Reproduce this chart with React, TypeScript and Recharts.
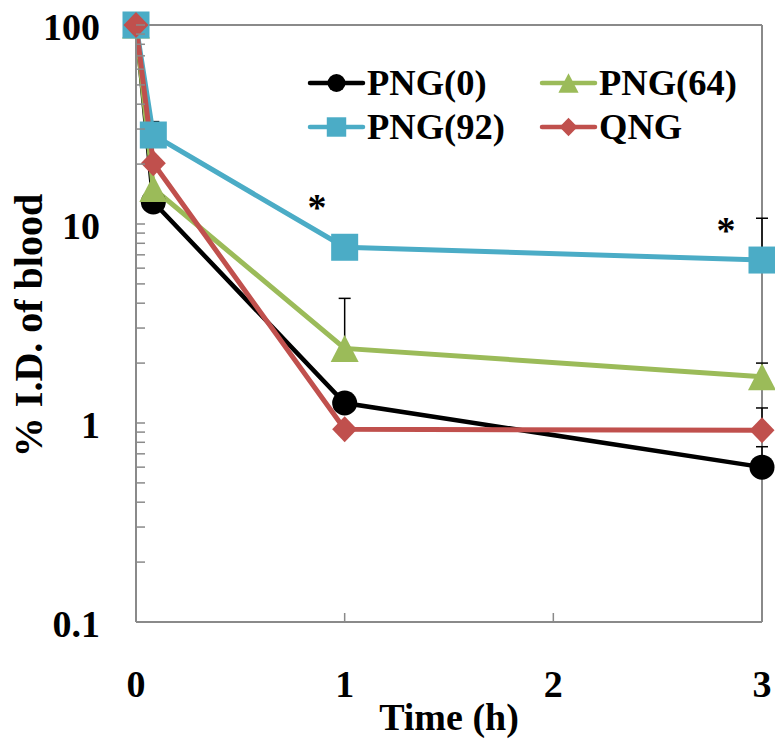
import React from 'react';
import { LineChart, Line, XAxis, YAxis, CartesianGrid, ErrorBar, Legend, ReferenceDot } from 'recharts';

// ---- data ----
const times = [0, 0.083, 1, 3];
const png0 = [100, 12.9, 1.26, 0.6];
const png64 = [100, 15.1, 2.37, 1.71];
const png92 = [100, 28.0, 7.64, 6.59];
const qng = [100, 20.2, 0.93, 0.92];
const png0Err = [0, 0, 0, 0.16];
const png64Err = [0, 0, 1.86, 0.29];
const png92Err = [0, 4.7, 0, 4.1];
const qngErr = [0, 0, 0, 0.27];
const seriesNames = ['PNG(0)', 'PNG(64)', 'PNG(92)', 'QNG'];
const xTicks = [0, 1, 2, 3];
const yMajorTicks = [0.1, 1, 10, 100];
const yAllTicks = [
  0.1, 0.2, 0.3, 0.4, 0.5, 0.6, 0.7, 0.8, 0.9,
  1, 2, 3, 4, 5, 6, 7, 8, 9,
  10, 20, 30, 40, 50, 60, 70, 80, 90, 100,
];
const starX = [0.868, 2.828];
const starY = [12.9, 9.89];
const xTitle = 'Time (h)';
const yTitle = '% I.D. of blood';

const errOf = (e: number) => (e > 0 ? [0, e] : null);

const data = times.map((t, i) => ({
  t,
  png0: png0[i],
  png64: png64[i],
  png92: png92[i],
  qng: qng[i],
  e0: errOf(png0Err[i]),
  e64: errOf(png64Err[i]),
  e92: errOf(png92Err[i]),
  eq: errOf(qngErr[i]),
}));

// ---- styles ----
const FONT = '"Liberation Serif", "Times New Roman", serif';
const AXIS = '#8a8a8a';
const series = [
  { key: 'png0', err: 'e0', name: seriesNames[0], color: '#000000', kind: 'circle', width: 4.5 },
  { key: 'png64', err: 'e64', name: seriesNames[1], color: '#9BBB59', kind: 'triangle', width: 5 },
  { key: 'png92', err: 'e92', name: seriesNames[2], color: '#4BACC6', kind: 'square', width: 5 },
  { key: 'qng', err: 'eq', name: seriesNames[3], color: '#C0504D', kind: 'diamond', width: 5 },
];

function Marker({ kind, cx, cy, color, scale = 1 }: any) {
  if (cx == null || cy == null) return null;
  if (kind === 'circle') return <circle cx={cx} cy={cy} r={12.5 * scale} fill={color} />;
  if (kind === 'square') {
    const s = 27 * scale;
    return <rect x={cx - s / 2} y={cy - s / 2} width={s} height={s} fill={color} />;
  }
  if (kind === 'triangle') {
    const w = 28 * scale, h = 27 * scale;
    return <polygon points={`${cx},${cy - h / 2} ${cx + w / 2},${cy + h / 2} ${cx - w / 2},${cy + h / 2}`} fill={color} />;
  }
  const w = 25 * scale, h = 26 * scale;
  return <polygon points={`${cx},${cy - h / 2} ${cx + w / 2},${cy} ${cx},${cy + h / 2} ${cx - w / 2},${cy}`} fill={color} />;
}

const YTick = (props: any) => {
  const { x, y, payload } = props;
  const v = payload.value;
  const major = yMajorTicks.some((m) => Math.abs(m - v) < 1e-9);
  return (
    <g>
      <line x1={x} x2={x + 9} y1={y} y2={y} stroke={AXIS} strokeWidth={1.5} />
      {major && (
        <text x={x - 36} y={y + 15} textAnchor="end" fontFamily={FONT} fontWeight="bold" fontSize={38} fill="#000">
          {String(v)}
        </text>
      )}
    </g>
  );
};

const XTick = (props: any) => {
  const { x, y, payload } = props;
  return (
    <g>
      {payload.value !== 0 && <line x1={x} x2={x} y1={y} y2={y - 9} stroke={AXIS} strokeWidth={1.5} />}
      <text x={x} y={y + 75} textAnchor="middle" fontFamily={FONT} fontWeight="bold" fontSize={38} fill="#000">
        {String(payload.value)}
      </text>
    </g>
  );
};

const legendLayout = [
  { col: 0, row: 0 },
  { col: 1, row: 0 },
  { col: 0, row: 1 },
  { col: 1, row: 1 },
];

const LegendContent = () => (
  <svg width={470} height={100} style={{ display: 'block', overflow: 'visible' }}>
    {series.map((s, i) => {
      const { col, row } = legendLayout[i];
      const x0 = col === 0 ? 5 : 237;
      const cy = row === 0 ? 20 : 64;
      return (
        <g key={s.key}>
          <line x1={x0} x2={x0 + 53} y1={cy} y2={cy} stroke={s.color} strokeWidth={4.5} strokeLinecap="round" />
          <Marker kind={s.kind} cx={x0 + 26.5} cy={cy} color={s.color} scale={0.72} />
          <text x={x0 + 57} y={cy + 12} fontFamily={FONT} fontWeight="bold" fontSize={36.5} fill="#000">
            {s.name}
          </text>
        </g>
      );
    })}
  </svg>
);

export default function App() {
  return (
    <div style={{ width: 775, height: 744, background: '#fff' }}>
      <style>{'body{margin:0;overflow:hidden;background:#fff}'}</style>
      <LineChart width={775} height={744} data={data} margin={{ top: 25, right: 13, left: 0, bottom: 0 }}>
        <CartesianGrid horizontal vertical horizontalValues={[100]} verticalValues={[3]} stroke={AXIS} strokeWidth={2} />
        <XAxis
          dataKey="t"
          type="number"
          domain={[0, 3]}
          ticks={xTicks}
          interval={0}
          height={122}
          tickSize={0}
          tickMargin={0}
          axisLine={{ stroke: AXIS, strokeWidth: 2 }}
          tickLine={false}
          tick={<XTick />}
          label={{
            content: (p: any) => {
              const vb = p.viewBox || { x: 136, y: 622, width: 626 };
              return (
                <text x={vb.x + vb.width / 2} y={vb.y + 108} textAnchor="middle" fontFamily={FONT} fontWeight="bold" fontSize={38} fill="#000">
                  {xTitle}
                </text>
              );
            },
          }}
        />
        <YAxis
          type="number"
          scale="log"
          domain={[0.1, 100]}
          ticks={yAllTicks}
          interval={0}
          width={136}
          tickSize={0}
          tickMargin={0}
          axisLine={{ stroke: AXIS, strokeWidth: 2 }}
          tickLine={false}
          tick={<YTick />}
          label={{
            content: (p: any) => {
              const vb = p.viewBox || { x: 0, y: 25, width: 136, height: 597 };
              const cx = 42;
              const cy = vb.y + vb.height / 2 + 2;
              return (
                <text
                  x={cx}
                  y={cy}
                  transform={`rotate(-90 ${cx} ${cy})`}
                  textAnchor="middle"
                  fontFamily={FONT}
                  fontWeight="bold"
                  fontSize={40}
                  fill="#000"
                >
                  {yTitle}
                </text>
              );
            },
          }}
        />
        <Legend
          layout="horizontal"
          verticalAlign="middle"
          align="center"
          wrapperStyle={{ left: 305, top: 63, width: 470, height: 100 }}
          content={<LegendContent />}
        />
        {series.map((s) => (
          <Line
            key={s.key}
            dataKey={s.key}
            name={s.name}
            stroke={s.color}
            strokeWidth={s.width}
            isAnimationActive={false}
            dot={(p: any) => <Marker key={`${s.key}-${p.index}`} kind={s.kind} cx={p.cx} cy={p.cy} color={s.color} />}
            activeDot={false}
          >
            <ErrorBar dataKey={s.err} direction="y" width={6} stroke="#000" strokeWidth={1.5} />
          </Line>
        ))}
        {starX.map((sx, i) => (
          <ReferenceDot
            key={`star${i}`}
            x={sx}
            y={starY[i]}
            r={0}
            shape={(p: any) => (
              <text x={p.cx} y={p.cy + 18} textAnchor="middle" fontFamily={FONT} fontWeight="bold" fontSize={38} fill="#000">
                *
              </text>
            )}
          />
        ))}
      </LineChart>
    </div>
  );
}
